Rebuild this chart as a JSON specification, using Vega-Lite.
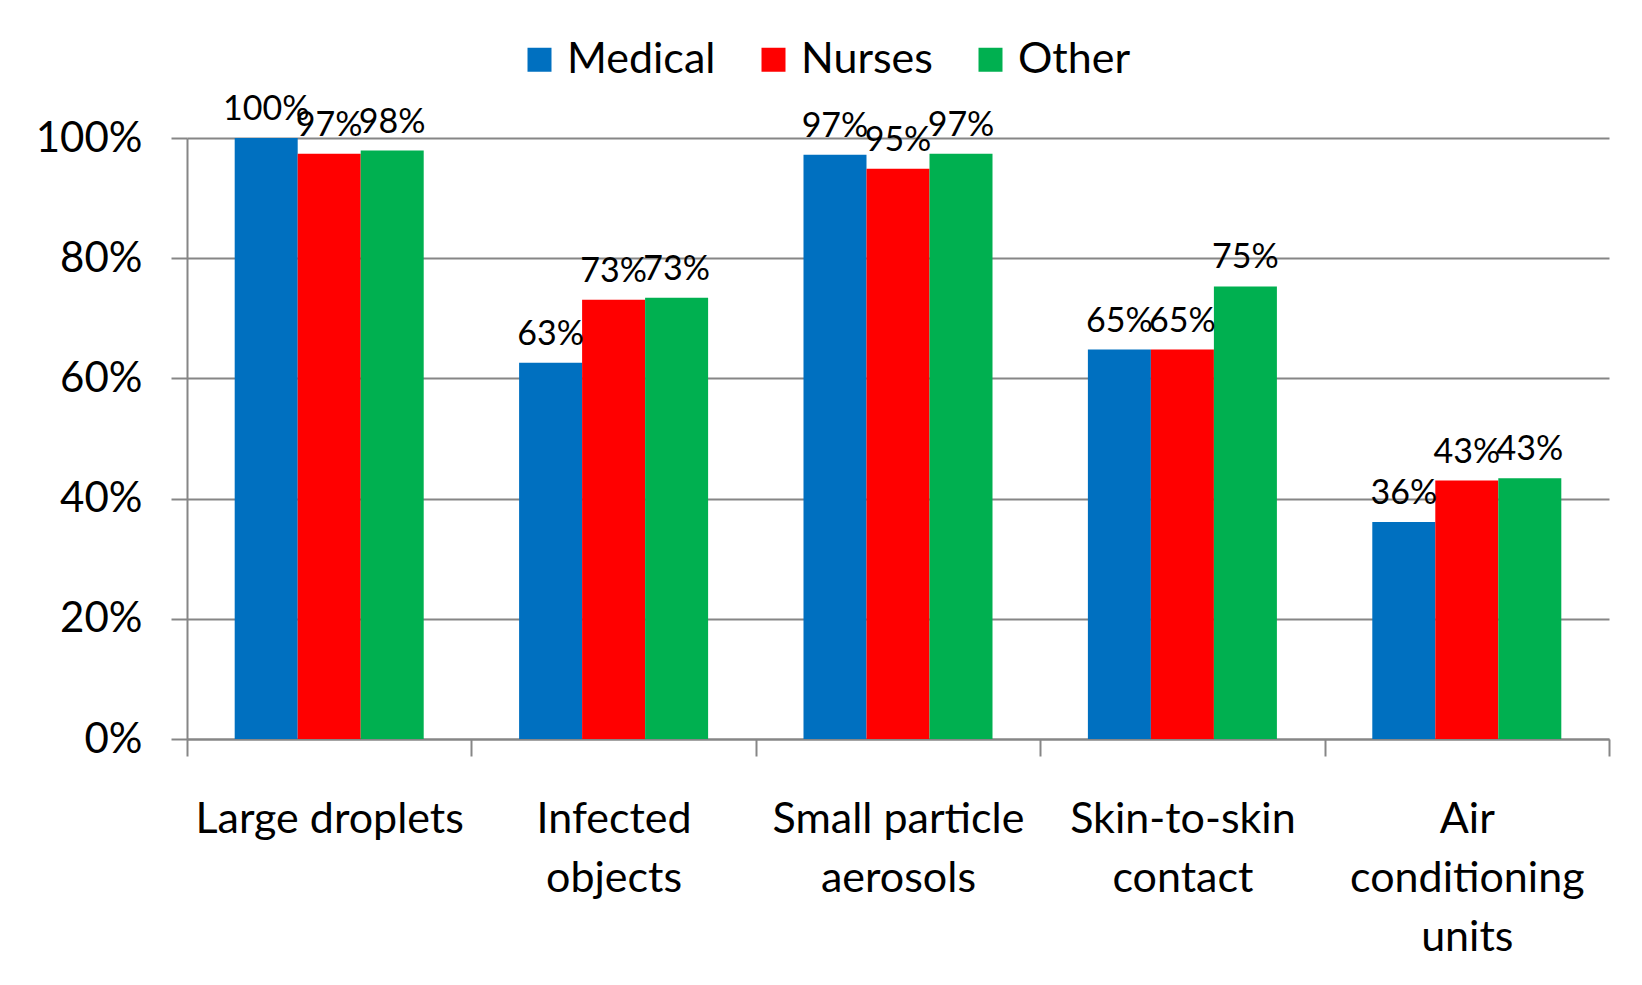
{
  "$schema": "https://vega.github.io/schema/vega-lite/v6.json",
  "autosize": {"type": "none"},
  "width": 1422,
  "height": 601,
  "padding": {"left": 187, "top": 138, "right": 33, "bottom": 246},
  "background": "white",
  "config": {"view": {"stroke": null}, "font": "Lato", "text": {"font": "Lato"}},
  "data": {
    "values": [
      {"route": "Large droplets", "group": "Medical", "value": 1.0},
      {"route": "Large droplets", "group": "Nurses", "value": 0.974},
      {"route": "Large droplets", "group": "Other", "value": 0.979},
      {"route": "Infected objects", "group": "Medical", "value": 0.626},
      {"route": "Infected objects", "group": "Nurses", "value": 0.731},
      {"route": "Infected objects", "group": "Other", "value": 0.734},
      {"route": "Small particle aerosols", "group": "Medical", "value": 0.972},
      {"route": "Small particle aerosols", "group": "Nurses", "value": 0.949},
      {"route": "Small particle aerosols", "group": "Other", "value": 0.974},
      {"route": "Skin-to-skin contact", "group": "Medical", "value": 0.648},
      {"route": "Skin-to-skin contact", "group": "Nurses", "value": 0.648},
      {"route": "Skin-to-skin contact", "group": "Other", "value": 0.753},
      {"route": "Air conditioning units", "group": "Medical", "value": 0.361},
      {"route": "Air conditioning units", "group": "Nurses", "value": 0.430},
      {"route": "Air conditioning units", "group": "Other", "value": 0.434}
    ]
  },
  "encoding": {
    "x": {
      "field": "route",
      "type": "nominal",
      "sort": ["Large droplets", "Infected objects", "Small particle aerosols", "Skin-to-skin contact", "Air conditioning units"],
      "scale": {"paddingInner": 0, "paddingOuter": 0},
      "axis": {
        "title": null,
        "labelAngle": 0,
        "labelFontSize": 43,
        "labelColor": "black",
        "labelFont": "Lato",
        "labelLimit": 0,
        "tickBand": "extent",
        "tickSize": 17,
        "tickColor": "#868686",
        "tickWidth": 2,
        "domainColor": "#868686",
        "domainWidth": 2,
        "labelPadding": 42,
        "labelLineHeight": 59,
        "labelBaseline": "top",
        "labelOverlap": false,
        "labelExpr": "datum.value == 'Infected objects' ? ['Infected','objects'] : datum.value == 'Small particle aerosols' ? ['Small particle','aerosols'] : datum.value == 'Skin-to-skin contact' ? ['Skin-to-skin','contact'] : datum.value == 'Air conditioning units' ? ['Air','conditioning','units'] : datum.value"
      }
    },
    "xOffset": {"field": "group", "type": "nominal", "sort": ["Medical", "Nurses", "Other"], "scale": {"paddingInner": 0, "paddingOuter": 0.757}},
    "y": {
      "field": "value",
      "type": "quantitative",
      "scale": {"domain": [0, 1]},
      "axis": {
        "title": null,
        "format": ".0%",
        "values": [0, 0.2, 0.4, 0.6, 0.8, 1],
        "labelFontSize": 42,
        "labelColor": "black",
        "labelFont": "Lato",
        "tickSize": 16,
        "tickColor": "#868686",
        "tickWidth": 2,
        "labelPadding": 29,
        "gridColor": "#868686",
        "gridWidth": 2,
        "domainColor": "#868686",
        "domainWidth": 2
      }
    }
  },
  "layer": [
    {
      "mark": {"type": "bar"},
      "encoding": {
        "color": {
          "field": "group",
          "type": "nominal",
          "scale": {"domain": ["Medical", "Nurses", "Other"], "range": ["#0070C0", "#FF0000", "#00B050"]},
          "legend": {
            "title": null,
            "orient": "none",
            "legendX": 331,
            "legendY": -100,
            "direction": "horizontal",
            "symbolType": "square",
            "symbolSize": 576,
            "symbolStrokeWidth": 0,
            "symbolOpacity": 1,
            "labelFontSize": 43,
            "labelFont": "Lato",
            "labelColor": "black",
            "labelOffset": 6,
            "columnPadding": 36
          }
        }
      }
    },
    {
      "mark": {"type": "text", "dy": -18, "baseline": "alphabetic", "fontSize": 34, "font": "Lato", "color": "black"},
      "encoding": {"text": {"field": "value", "type": "quantitative", "format": ".0%"}}
    }
  ]
}
